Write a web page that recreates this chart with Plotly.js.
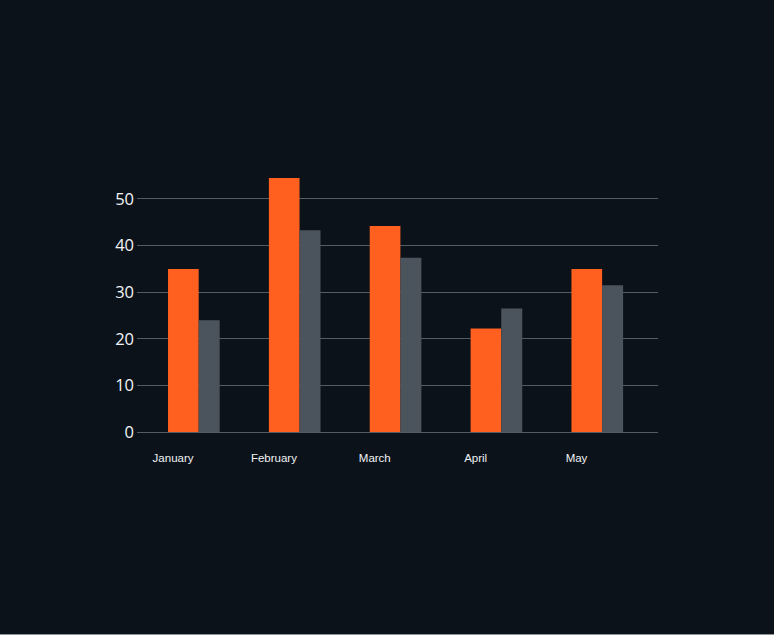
<!DOCTYPE html>
<html>
<head>
<meta charset="utf-8">
<script src="https://cdn.plot.ly/plotly-3.0.1.min.js"></script>
<style>
  html, body { margin: 0; padding: 0; background: #8c9494; }
  #chart { width: 774px; height: 634px; }
</style>
</head>
<body>
<div id="chart"></div>
<script>
// months and the two series
var months = ['January', 'February', 'March', 'April', 'May'];
var seriesA = [35, 54.5, 44.2, 22.2, 35];     // orange
var seriesB = [24, 43.3, 37.4, 26.5, 31.5];   // gray
var yTicks = [0, 10, 20, 30, 40, 50];

var idx = months.map(function (m, i) { return i; });

var trace1 = {
    x: idx,
    y: seriesA,
    type: 'bar',
    width: 0.304,
    offset: 0,
    marker: { color: '#ff5f1f' },
    hoverinfo: 'none'
};

var trace2 = {
    x: idx,
    y: seriesB,
    type: 'bar',
    width: 0.208,
    offset: 0.304,
    marker: { color: '#4b545c' },
    hoverinfo: 'none'
};

var layout = {
    width: 774,
    height: 634,
    paper_bgcolor: '#0c121a',
    plot_bgcolor: '#0c121a',
    showlegend: false,
    barmode: 'overlay',
    margin: { l: 137, r: 116, t: 171, b: 202 },
    xaxis: {
        range: [-0.3075, 4.858],
        tickvals: idx.map(function (i) { return i + 0.05; }),
        ticktext: months,
        showgrid: false,
        zeroline: false,
        showline: false,
        ticks: '',
        ticklen: 0,
        tickfont: { family: 'Liberation Sans, Arial, sans-serif', size: 11.5, color: '#f0f2f4' },
        ticklabelstandoff: 17
    },
    yaxis: {
        range: [0, 56],
        tickvals: yTicks,
        showgrid: true,
        gridcolor: '#535b63',
        gridwidth: 1,
        zeroline: true,
        zerolinecolor: '#535b63',
        zerolinewidth: 1,
        showline: false,
        ticks: '',
        ticklabelstandoff: 2,
        tickfont: { family: 'Open Sans, Noto Sans, sans-serif', size: 16.5, color: '#f2f4f6' }
    }
};

Plotly.newPlot('chart', [trace1, trace2], layout, { displayModeBar: false, staticPlot: true });
</script>
</body>
</html>
